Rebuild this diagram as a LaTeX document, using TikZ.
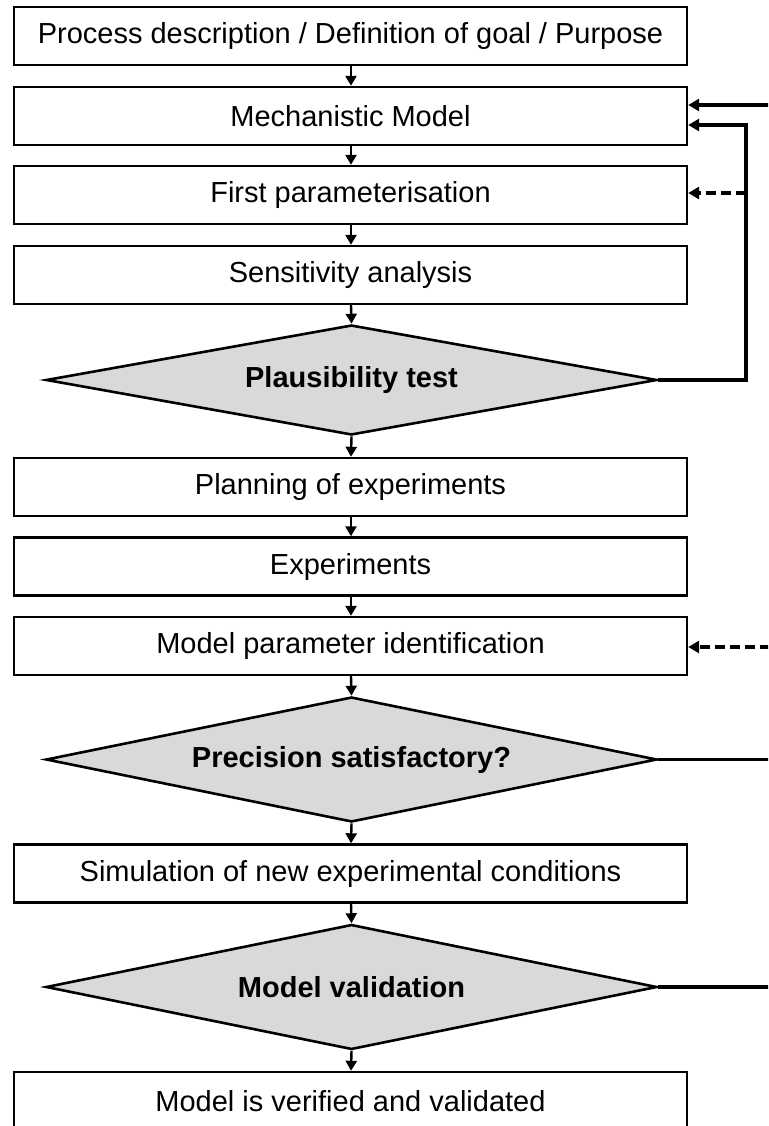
\documentclass[tikz,border=0pt]{standalone}
\usepackage{fontspec}
\setmainfont{Liberation Sans}
\usetikzlibrary{arrows.meta,shapes.geometric}
\definecolor{dfill}{RGB}{217,217,217}
\tikzset{
  stepbox/.style={draw=black, line width=2.4pt, fill=white, rectangle, minimum width=673pt, minimum height=58pt, inner sep=0pt, font=\fontsize{29pt}{34pt}\selectfont},
  decision/.style={draw=black, line width=2.6pt, fill=dfill, diamond, aspect=5.5, minimum width=611pt, inner sep=0pt, font=\fontsize{29pt}{34pt}\selectfont\bfseries},
  downarr/.style={line width=2.4pt, -{Triangle[width=11pt,length=10pt]}},
  fbarr/.style={line width=3.5pt, -{Triangle[width=12pt,length=11pt]}},
  fbline/.style={line width=3.5pt},
  fbdash/.style={line width=3.2pt, dash pattern=on 10pt off 5pt, -{Triangle[width=12pt,length=11pt]}}
}
\begin{document}
\begin{tikzpicture}[x=1pt,y=-1pt]
\clip (0,0) rectangle (768,1126);
\fill[white] (0,0) rectangle (768,1126);
% boxes
\node[stepbox] (b1) at (350.5,36) {Process description / Definition of goal / Purpose};
\node[stepbox] (b2) at (350.5,116) {Mechanistic Model};
\node[stepbox] (b3) at (350.5,195) {First parameterisation};
\node[stepbox] (b4) at (350.5,275) {Sensitivity analysis};
\node[decision, minimum height=110pt] (d1) at (351.5,380) {Plausibility test};
\node[stepbox] (b5) at (350.5,487) {Planning of experiments};
\node[stepbox] (b6) at (350.5,566.5) {Experiments};
\node[stepbox] (b7) at (350.5,646) {Model parameter identification};
\node[decision, minimum height=125pt] (d2) at (351.5,759.5) {Precision satisfactory?};
\node[stepbox] (b8) at (350.5,873.5) {Simulation of new experimental conditions};
\node[decision, minimum height=125pt] (d3) at (351.5,987) {Model validation};
\node[stepbox] (b9) at (350.5,1101) {Model is verified and validated};
% down arrows
\draw[downarr] (b1.south -| 351,0) -- (b2.north -| 351,0);
\draw[downarr] (b2.south -| 351,0) -- (b3.north -| 351,0);
\draw[downarr] (b3.south -| 351,0) -- (b4.north -| 351,0);
\draw[downarr] (b4.south -| 351,0) -- (d1.north);
\draw[downarr] (d1.south) -- (b5.north -| 351,0);
\draw[downarr] (b5.south -| 351,0) -- (b6.north -| 351,0);
\draw[downarr] (b6.south -| 351,0) -- (b7.north -| 351,0);
\draw[downarr] (b7.south -| 351,0) -- (d2.north);
\draw[downarr] (d2.south) -- (b8.north -| 351,0);
\draw[downarr] (b8.south -| 351,0) -- (d3.north);
\draw[downarr] (d3.south) -- (b9.north -| 351,0);
% feedback connectors
\coordinate (e1) at (770,105);
\coordinate (c1) at (746,125);
\coordinate (c2) at (746,193);
\coordinate (e2) at (770,647);
\coordinate (e3) at (770,759.5);
\coordinate (e4) at (770,987);
\draw[fbarr] (e1) -- (e1 -| b2.east);
\draw[fbarr, line join=miter] (d1.east) -| (c1) -- (c1 -| b2.east);
\draw[fbdash] (c2) -- (c2 -| b3.east);
\draw[fbdash] (e2) -- (e2 -| b7.east);
\draw[fbline] (d2.east) -- (e3);
\draw[fbline] (d3.east) -- (e4);
\end{tikzpicture}
\end{document}
